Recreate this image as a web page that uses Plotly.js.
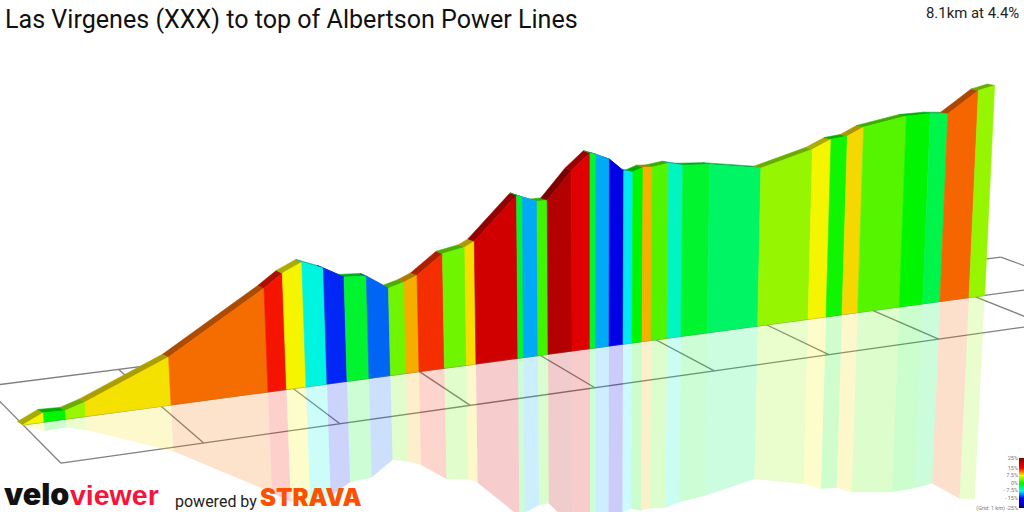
<!DOCTYPE html>
<html><head><meta charset="utf-8">
<script src="https://cdn.plot.ly/plotly-3.0.1.min.js"></script>
<style>html,body{margin:0;padding:0;background:#fff}#c{width:1024px;height:512px}</style></head>
<body><div id="c"></div>
<script>
// Boundaries of the climb's segments: distance (km) and height gained (m)
const distanceKm = [0,0.149,0.306,0.450,1.073,1.806,1.949,2.100,2.264,2.422,2.596,2.768,2.893,2.998,3.205,3.386,3.464,3.814,3.861,3.983,4.068,4.273,4.427,4.475,4.592,4.714,4.792,4.880,4.959,5.101,5.225,5.461,5.919,6.386,6.555,6.706,6.855,7.255,7.483,7.653,7.940,8.097];
const elevationM = [0,13.3,12.1,20.6,70.0,154.4,173.6,186.8,174.2,157.2,154.8,132.7,139.0,147.3,175.8,181.9,189.4,253.8,249.7,241.1,240.9,284.1,308.6,305.6,295.6,274.8,271.7,277.5,276.5,279.9,274.4,271.1,257.0,279.1,292.6,295.3,307.6,319.2,319.3,316.5,351.2,357.2];
// Gradient (%) shown by each segment's colour
const gradePct = [7.4,0,4.7,8.1,11.7,14.4,7.5,-6.9,-13.8,-1.4,-11.9,3.4,9.7,13.6,3.4,8.2,18.2,-1.4,-9.8,2,20.6,16.8,-1.4,-9.8,-16.3,-7.9,0,9.6,2.5,-5.9,-1.4,-3.1,4.6,7.5,0.5,8.4,2.6,0,-2.3,11.9,4.6];
// Gradient colour scale
const scaleGrades = [-25,-15,-7.5,0,7.5,15,25];
const scaleColors = [[0,0,128],[0,0,245],[0,245,245],[0,245,0],[245,245,0],[245,0,0],[128,0,0]];
// Legend and grid
const legendTicks = [25,15,7.5,0,-7.5,-15,-25];
const legendLabels = ['25%','15%','7.5%','0%','- 7.5%','- 15%','(Grid: 1 km) -25%'];
const gridKm = [0,1,2,3,4,5,6,7,8,9];
const gridRows = [-1,0,1];
const titleText = 'Las Virgenes (XXX) to top of Albertson Power Lines';
const summaryText = '8.1km at 4.4%';

// Perspective view of the profile
const depth = 0.02356, vScale = 0.7, topY = 0.97;
function project(km, row, elev){
  const f = 1/(1+depth*km);
  const X = (23+38*row+(141.97+5.53*row)*km)*f;
  const Y = (424.8+38.4*row+(-9.02-0.715*row)*km)*f;
  const h = (elev||0)*vScale*f;
  const lean = h*(X-590)*0.00012;
  return {bx:X, by:Y, tx:X+lean, ty:Y-h, rx:X-lean, ry:Y+topY*h};
}
function gradeRGB(g){
  let i=0; while(i<scaleGrades.length-2 && g>scaleGrades[i+1]) i++;
  const t=(g-scaleGrades[i])/(scaleGrades[i+1]-scaleGrades[i]);
  return scaleColors[i].map((c,j)=>Math.round(c+(scaleColors[i+1][j]-c)*t));
}
const rgb=(c,a)=>a===undefined?`rgb(${c[0]},${c[1]},${c[2]})`:`rgba(${c[0]},${c[1]},${c[2]},${a})`;
const poly=(x,y,color,lw)=>({type:'scatter',mode:'lines',x:x.concat(x[0]),y:y.concat(y[0]),fill:'toself',fillcolor:color,
  line:{color:color,width:lw===undefined?0.6:lw},hoverinfo:'skip',showlegend:false});

const traces=[];
// floor grid
const lineStyle={color:'#808080',width:1.3};
const gline=(a,b)=>traces.push({type:'scatter',mode:'lines',x:[a.bx,b.bx],y:[a.by,b.by],line:lineStyle,hoverinfo:'skip',showlegend:false});
gridRows.forEach(r=>gline(project(0,r),project(9,r)));
gridKm.forEach(k=>gline(project(k,-1),project(k,1)));
// reflection
const pts=distanceKm.map((k,i)=>project(k,0,elevationM[i]));
gradePct.forEach((g,i)=>{
  const a=pts[i],b=pts[i+1];
  traces.push(poly([a.bx,b.bx,b.rx,a.rx],[a.by,b.by,b.ry,a.ry],rgb(gradeRGB(g),0.2),0));
});
// top ribbon, whose depth shrinks and turns with the view
const rdx=x=>-5.5-0.0018*x, rdy=x=>-3.3+0.0019*x;
gradePct.forEach((g,i)=>{
  const a=pts[i],b=pts[i+1],c=gradeRGB(g).map(v=>v*0.7);
  traces.push(poly([a.tx,b.tx,b.tx+rdx(b.tx),a.tx+rdx(a.tx)],[a.ty,b.ty,b.ty+rdy(b.tx),a.ty+rdy(a.tx)],rgb(c)));
});
// wall
gradePct.forEach((g,i)=>{
  const a=pts[i],b=pts[i+1];
  traces.push(poly([a.bx,b.bx,b.tx,a.tx],[a.by,b.by,b.ty,a.ty],rgb(gradeRGB(g))));
});
// legend ramp
const ramp=[];for(let v=-25;v<=25;v+=0.5)ramp.push(v);
traces.push({type:'heatmap',xaxis:'x2',yaxis:'y2',x:[0],y:ramp,z:ramp.map(v=>[v]),zmin:-25,zmax:25,showscale:false,hoverinfo:'skip',
  colorscale:scaleGrades.map((g,i)=>[(g+25)/50,rgb(scaleColors[i])])});

const logoFont='Inter, Roboto, sans-serif';
const note=(text,x,y,size,color,anchor,family,weight)=>({text,x,y,xref:'x',yref:'y',xanchor:anchor||'left',yanchor:'middle',showarrow:false,borderpad:0,borderwidth:0,
    font:{size,color,family:family||'Roboto, sans-serif',weight:weight||400}});
const layout={
  width:1024,height:512,margin:{l:0,r:0,t:0,b:0},paper_bgcolor:'#fff',plot_bgcolor:'rgba(0,0,0,0)',showlegend:false,
  title:{text:titleText,x:5/1024,xanchor:'left',xref:'paper',y:1-19/512,yanchor:'middle',font:{family:'Roboto, sans-serif',size:25.1,color:'#111'},pad:{t:0,l:0,r:0,b:0}},
  xaxis:{range:[0,1024],visible:false,fixedrange:true,domain:[0,1]},
  yaxis:{range:[512,0],visible:false,fixedrange:true,domain:[0,1]},
  xaxis2:{domain:[1019/1024,1],anchor:'y2',visible:false,fixedrange:true},
  yaxis2:{domain:[4/512,54/512],anchor:'x2',range:[-25,25],side:'left',tickmode:'array',tickvals:legendTicks,ticktext:legendLabels,
    tickfont:{size:5.5,color:'#777',family:'Roboto, sans-serif'},ticks:'',showgrid:false,zeroline:false,showline:false,fixedrange:true,ticklabelstandoff:0},
  annotations:[
    note(summaryText,1019,13,14.9,'#222','right'),
    note('velo',4,493.5,30.5,'#111','left',logoFont,900),
    note('viewer',70,495,28.5,'#f5143c','left','"Liberation Sans Narrow", "Liberation Sans", sans-serif',700),
    note('powered by',175,501,16,'#222','left','Roboto, sans-serif'),
    note('STRAVA',260,497,24,'#fc5200','left',logoFont,900)
  ]
};
Plotly.newPlot('c',traces,layout,{displayModeBar:false,staticPlot:true});
</script></body></html>
